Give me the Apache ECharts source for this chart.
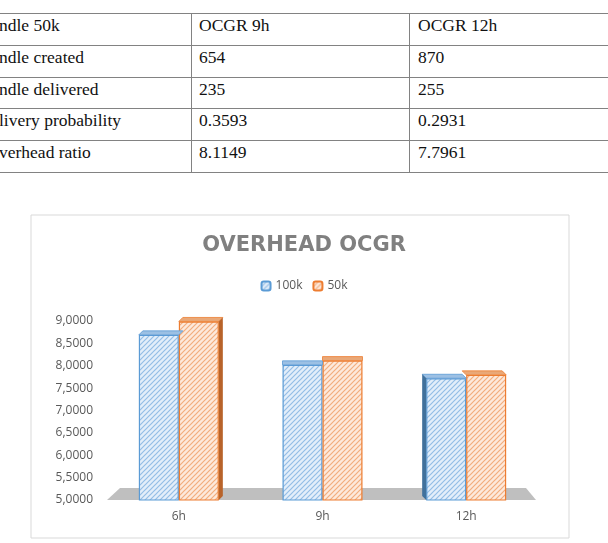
<!DOCTYPE html>
<html>
<head>
<meta charset="utf-8">
<script src="https://cdn.jsdelivr.net/npm/echarts@6/dist/echarts.min.js"></script>
<style>
  html, body { margin: 0; padding: 0; background: #ffffff; width: 608px; height: 543px; overflow: hidden; position: relative; }
  .hl { position: absolute; left: 0; width: 608px; height: 0; border-top: 1.5px solid #828282; }
  .vl { position: absolute; width: 0; border-left: 1.5px solid #828282; }
  .cell { position: absolute; font-family: "Liberation Serif", "Times New Roman", serif; font-size: 17.5px; color: #111; line-height: 20px; white-space: nowrap; }
  #chart { position: absolute; left: 0; top: 200px; width: 608px; height: 343px; }
</style>
</head>
<body>
<div id="table"></div>
<div id="chart"></div>
<script>
// ---- table data ----
const tableHeader = ["ndle 50k", "OCGR 9h", "OCGR 12h"];
const tableRowLabels = ["ndle created", "ndle delivered", "livery probability", "verhead ratio"];
const ocgr9h = ["654", "235", "0.3593", "8.1149"];
const ocgr12h = ["870", "255", "0.2931", "7.7961"];

// ---- chart data ----
const chartTitle = "OVERHEAD OCGR";
const categories = ["6h", "9h", "12h"];
const seriesNames = ["100k", "50k"];
const values100k = [8.69, 8.02, 7.72];
const values50k = [8.99, 8.1149, 7.7961];
const yMin = 5, yMax = 9, yStep = 0.5;

// ---- build table (HTML) ----
(function buildTable() {
  const t = document.getElementById('table');
  const lineYs = [13, 45, 77, 108, 140, 172];
  lineYs.forEach(y => {
    const d = document.createElement('div'); d.className = 'hl'; d.style.top = y + 'px'; t.appendChild(d);
  });
  [191, 409].forEach(x => {
    const d = document.createElement('div'); d.className = 'vl';
    d.style.left = x + 'px'; d.style.top = '13px'; d.style.height = '160px'; t.appendChild(d);
  });
  const colX = [-1, 199, 418];
  const rows = [tableHeader].concat(tableRowLabels.map((l, i) => [l, ocgr9h[i], ocgr12h[i]]));
  rows.forEach((r, ri) => {
    r.forEach((txt, ci) => {
      const d = document.createElement('div'); d.className = 'cell';
      d.textContent = txt;
      d.style.left = colX[ci] + 'px';
      d.style.top = (lineYs[ri] + 2) + 'px';
      t.appendChild(d);
    });
  });
})();

// ---- patterns ----
function makePattern(bg, line) {
  const c = document.createElement('canvas');
  c.width = 5; c.height = 5;
  const g = c.getContext('2d');
  g.fillStyle = bg; g.fillRect(0, 0, 5, 5);
  g.strokeStyle = line; g.lineWidth = 1.2;
  g.beginPath();
  g.moveTo(-1, 6); g.lineTo(6, -1);
  g.moveTo(-1, 1); g.lineTo(1, -1);
  g.moveTo(4, 6); g.lineTo(6, 4);
  g.stroke();
  return { image: c, repeat: 'repeat' };
}
const bluePat = makePattern('#e3eefa', '#94bde6');
const orangePat = makePattern('#fde9dc', '#f2ad7e');
const blueBorder = '#5b9bd5', orangeBorder = '#ed7d31';
const blueDark = '#41719c', orangeDark = '#b8632a';

const chart = echarts.init(document.getElementById('chart'), null, { renderer: 'canvas' });
const BW = 40;
const depthDx = [4, 0, -4];

const floorData = [[0]];
const depthData = categories.map((c, i) => [i, values100k[i], values50k[i]]);

chart.setOption({
  animation: false,
  backgroundColor: 'transparent',
  textStyle: { fontFamily: '"Open Sans", sans-serif' },
  title: {
    text: chartTitle, left: 'center', top: 30,
    textStyle: { fontFamily: '"DejaVu Sans", sans-serif', fontWeight: 'bold', fontSize: 21, color: '#808080' }
  },
  legend: {
    data: seriesNames, top: 75, left: 'center', itemWidth: 9, itemHeight: 9, itemGap: 10,
    textStyle: { fontFamily: '"Open Sans", sans-serif', fontSize: 12, color: '#595959' }
  },
  graphic: [{
    type: 'rect', shape: { x: 31, y: 15, width: 538, height: 323 },
    style: { fill: 'none', stroke: '#d9d9d9', lineWidth: 1 }, z: 0, silent: true
  }],
  grid: { left: 107, right: 70, top: 121, bottom: 43 },
  xAxis: {
    type: 'category', data: categories,
    axisLine: { show: false }, axisTick: { show: false },
    axisLabel: { fontSize: 12, color: '#595959', margin: 11, fontFamily: '"Open Sans", sans-serif' }
  },
  yAxis: {
    type: 'value', min: yMin, max: yMax, interval: yStep,
    splitLine: { show: false }, axisLine: { show: false }, axisTick: { show: false },
    axisLabel: {
      fontSize: 12, color: '#595959', margin: 14, fontFamily: '"Open Sans", sans-serif',
      formatter: v => v.toFixed(4).replace('.', ',')
    }
  },
  series: [
    {
      type: 'custom', name: 'floor', silent: true, z: 1, data: floorData,
      renderItem: function (params, api) {
        const band = api.size([1, 0])[0];
        const l = api.coord([0, yMin])[0] - band / 2;
        const r = api.coord([categories.length - 1, yMin])[0] + band / 2;
        const yb = api.coord([0, yMin])[1];
        return {
          type: 'polygon',
          shape: { points: [[l, yb], [r - 2, yb], [r - 12, yb - 12], [l + 13, yb - 12]] },
          style: { fill: '#bfbfbf' }
        };
      },
      tooltip: { show: false }
    },
    {
      type: 'bar', name: seriesNames[0], data: values100k, barWidth: BW, barGap: '0%', z: 3,
      itemStyle: { color: bluePat, borderColor: blueBorder, borderWidth: 1.2 }
    },
    {
      type: 'bar', name: seriesNames[1], data: values50k, barWidth: BW, barGap: '0%', z: 3,
      itemStyle: { color: orangePat, borderColor: orangeBorder, borderWidth: 1.2 }
    },
    {
      type: 'custom', name: 'depth', silent: true, z: 4, data: depthData,
      renderItem: function (params, api) {
        const i = api.value(0);
        const dx = depthDx[i];
        const dy = 4;
        const c = api.coord([i, yMin]);
        const cx = c[0], yb = c[1];
        const y0 = api.coord([i, api.value(1)])[1];
        const y1 = api.coord([i, api.value(2)])[1];
        const x0 = cx - BW, xm = cx, x1 = cx + BW;
        const kids = [];
        kids.push({ type: 'polygon', shape: { points: [[x0, y0], [xm, y0], [xm + dx, y0 - dy], [x0 + dx, y0 - dy]] },
          style: { fill: '#9cc0e4', stroke: blueBorder, lineWidth: 0.8 } });
        kids.push({ type: 'polygon', shape: { points: [[xm, y1], [x1, y1], [x1 + dx, y1 - dy], [xm + dx, y1 - dy]] },
          style: { fill: '#e9a878', stroke: orangeBorder, lineWidth: 0.8 } });
        if (dx > 0) {
          kids.push({ type: 'polygon', shape: { points: [[x1, y1], [x1 + dx, y1 - dy], [x1 + dx, yb - dy], [x1, yb]] },
            style: { fill: orangeDark } });
        } else if (dx < 0) {
          kids.push({ type: 'polygon', shape: { points: [[x0, y0], [x0 + dx, y0 - dy], [x0 + dx, yb - dy], [x0, yb]] },
            style: { fill: blueDark } });
        }
        return { type: 'group', children: kids };
      }
    }
  ]
});
</script>
</body>
</html>
